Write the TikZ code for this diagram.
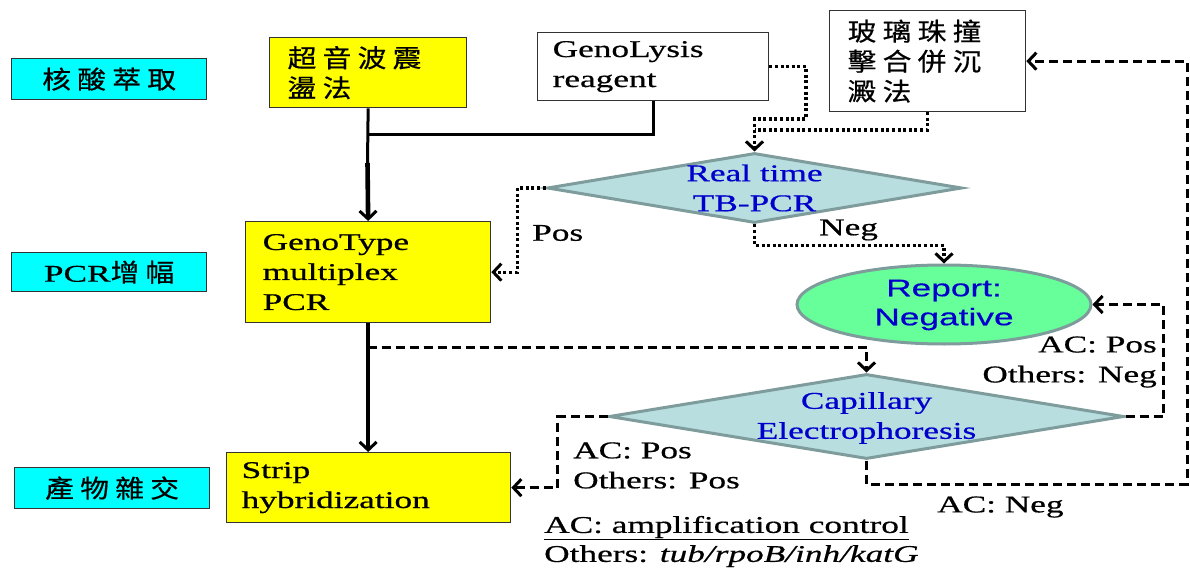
\documentclass[tikz,border=0pt]{standalone}
\usepackage{fontspec}
\setmainfont{Liberation Serif}[FakeStretch=1.47,FakeBold=0.6]
\newfontfamily\sansf{Liberation Sans}[FakeStretch=1.47,FakeBold=0.4]
\newfontfamily\cjk{Noto Sans CJK TC}[FakeStretch=1.15,LetterSpace=25,FakeBold=0.6]
\usetikzlibrary{arrows.meta,shapes.geometric}
\definecolor{cyanbox}{HTML}{00FFFF}
\definecolor{yel}{HTML}{FFFF00}
\definecolor{dfill}{HTML}{B8DEE0}
\definecolor{dline}{HTML}{7F9C9C}
\definecolor{efill}{HTML}{66FF99}
\definecolor{txtblue}{HTML}{0000CC}
\definecolor{bord}{HTML}{333333}
\tikzset{
  txt/.style={font=\fontsize{24}{30}\selectfont, inner sep=0pt},
  boxbase/.style={draw=bord, line width=1.3pt, anchor=north west, inner ysep=0pt, align=left, font=\fontsize{24}{30}\selectfont},
  cyanstage/.style={boxbase, fill=cyanbox, align=center, inner xsep=0pt},
  yelbox/.style={boxbase, fill=yel},
  whitebox/.style={boxbase, fill=white},
  decision/.style={diamond, draw=dline, fill=dfill, line width=3pt, inner sep=0pt},
  bluetxt/.style={txt, text=txtblue, align=center},
  tip/.style={-{Straight Barb[length=8pt,width=17pt,line width=3pt]}},
  solidthin/.style={line width=3pt},
  solidthick/.style={line width=4.6pt},
  dotln/.style={line width=3.2pt, dash pattern=on 3pt off 2.6pt},
  dashln/.style={line width=3pt, dash pattern=on 9pt off 5pt},
}
\begin{document}
\begin{tikzpicture}[x=1pt,y=-1pt]
\useasboundingbox (0,0) rectangle (1190,569);

% stage labels
\node[cyanstage, text width=195pt, minimum height=41pt] (cy1) at (11,58) {{\cjk\fontsize{25}{31}\selectfont 核酸萃取}};
\node[cyanstage, text width=195pt, minimum height=39pt] (cy2) at (11,252) {PCR{\cjk\fontsize{25}{31}\selectfont 增幅}};
\node[cyanstage, text width=195pt, minimum height=41pt] (cy3) at (14,467) {{\cjk\fontsize{25}{31}\selectfont 產物雜交}};

% process boxes
\node[yelbox, text width=161pt, inner xsep=18pt, minimum height=70pt] (us) at (269,37)
  {{\cjk\fontsize{25}{32}\selectfont 超音波震\\盪法}};
\node[whitebox, text width=201pt, inner xsep=15pt, minimum height=68pt] (gl) at (537,32)
  {GenoLysis\\reagent};
\node[whitebox, text width=160pt, inner xsep=18pt, minimum height=101pt] (gb) at (829,10)
  {{\cjk\fontsize{25}{30}\selectfont 玻璃珠撞\\擊合併沉\\澱法}};
\node[yelbox, text width=211pt, inner xsep=17pt, minimum height=101pt] (gt) at (245,221)
  {GenoType\\multiplex\\PCR};
\node[yelbox, text width=254pt, inner xsep=15pt, minimum height=70pt] (st) at (226,452)
  {Strip\\hybridization};

% decisions
\node[decision, minimum width=415pt, minimum height=70pt] (RT) at (754.5,188) {};
\node[bluetxt] (RTt) at (754.5,188) {Real time\\TB-PCR};
\node[ellipse, draw=dline, fill=efill, line width=3pt, inner sep=0pt, minimum width=294pt, minimum height=79pt] (REP) at (944,304.5) {};
\node[bluetxt, font=\fontsize{24}{29}\selectfont\sansf] (REPt) at (944,305) {Report:\\Negative};
\node[decision, minimum width=515pt, minimum height=85pt] (CE) at (866.5,416.5) {};
\node[bluetxt] (CEt) at (866.5,418) {Capillary\\Electrophoresis};

% solid connectors
\coordinate (j1) at (367.5,135);
\coordinate (j2) at (367.5,163);
\draw[solidthin] (us.south) -- (j2);
\draw[solidthin] (gl.south) |- (j1);
\draw[solidthick, tip] (j2) -- (gt.north);
\draw[solidthick, tip] (gt.south) -- (gt.south |- st.north);

% dotted connectors
\coordinate (c1) at (806,119);
\coordinate (c2) at (754.5,130);
\draw[dotln, tip] (gl.east) -| (c1) -| (RT.north);
\draw[dotln] (gb.south) |- (c2);
\draw[dotln, tip] (RT.west) -- ++(-28,0) |- (gt.east);
\draw[dotln, tip] (RT.south) -- ++(0,21) -| (REP.north);

% dashed connectors
\coordinate (j3) at (367.5,347);
\coordinate (c4) at (1187,484);
\draw[dashln, tip] (j3) -| (CE.north);
\draw[dashln, tip] (CE.east) -- ++(38,0) |- (REP.east);
\draw[dashln, tip] (CE.south) |- (c4) |- (gb.east);
\draw[dashln, tip] (CE.west) -- ++(-50,0) |- (st.east);

% labels
\node[txt, anchor=west] (lpos) at (532,233) {Pos};
\node[txt, anchor=west] (lneg) at (819,230) {Neg};
\node[txt, anchor=east, align=right] (lr) at (1157,362) {AC: Pos\\Others: Neg};
\node[txt, anchor=west, align=left] (ll) at (573,465.5) {AC: Pos\\Others: Pos};
\node[txt, anchor=west] (lacneg) at (937,507) {AC: Neg};
\node[txt, anchor=west, align=left, font=\fontsize{24}{29}\selectfont] (note) at (544,541.5)
  {\underline{AC: amplification control}\\Others: \textit{tub/rpoB/inh/katG}};
\end{tikzpicture}
\end{document}
